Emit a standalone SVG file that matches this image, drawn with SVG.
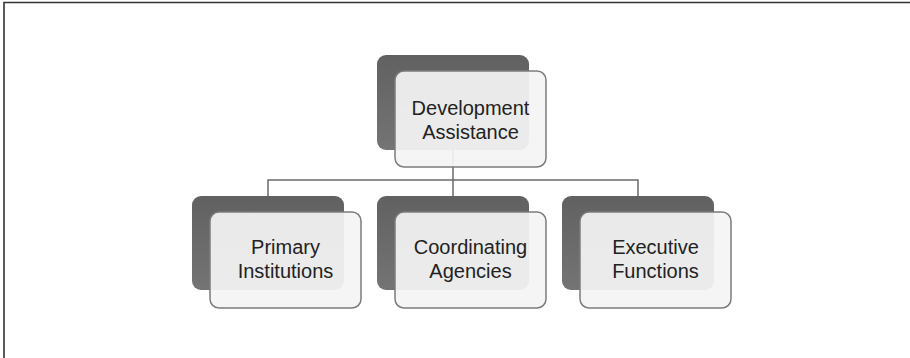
<svg xmlns="http://www.w3.org/2000/svg" width="910" height="358" viewBox="0 0 910 358">
  <style>
    .back { fill: url(#backFill); }
    .front { fill: #f4f4f4; fill-opacity: 0.93; stroke: #7c7c7c; stroke-width: 1.5; }
    .label { font-family: "Liberation Sans", "Open Sans", sans-serif; font-size: 20px; fill: #222; text-anchor: middle; }
    .wire { fill: none; stroke: #6a6a6a; stroke-width: 1.5; }
    .frame { fill: none; stroke: #333; stroke-width: 1.6; }
  </style>
  <defs>
    <linearGradient id="backFill" x1="0" y1="0" x2="0" y2="1">
      <stop offset="0" stop-color="#616161"/>
      <stop offset="1" stop-color="#747474"/>
    </linearGradient>
  </defs>
  <rect width="910" height="358" fill="#fff"/>
  <path class="frame" d="M4,358 V2.5 H910"/>

  <g id="connectors">
    <path class="wire" d="M453,150 V180"/>
    <path class="wire" d="M268,196 V180 H638 V196"/>
    <path class="wire" d="M453,180 V196"/>
  </g>

  <g id="node-development">
    <rect class="back" x="377" y="55" width="152" height="95" rx="9"/>
    <rect class="front" x="395" y="71" width="151" height="96" rx="9"/>
    <text class="label" x="470.5" y="115">Development</text>
    <text class="label" x="470.5" y="139">Assistance</text>
  </g>

  <g id="node-primary">
    <rect class="back" x="192" y="196" width="152" height="94" rx="9"/>
    <rect class="front" x="210" y="212" width="151" height="96" rx="9"/>
    <text class="label" x="285.5" y="254">Primary</text>
    <text class="label" x="285.5" y="278">Institutions</text>
  </g>

  <g id="node-coordinating">
    <rect class="back" x="377" y="196" width="152" height="94" rx="9"/>
    <rect class="front" x="395" y="212" width="151" height="96" rx="9"/>
    <text class="label" x="470.5" y="254">Coordinating</text>
    <text class="label" x="470.5" y="278">Agencies</text>
  </g>

  <g id="node-executive">
    <rect class="back" x="562" y="196" width="152" height="94" rx="9"/>
    <rect class="front" x="580" y="212" width="151" height="96" rx="9"/>
    <text class="label" x="655.5" y="254">Executive</text>
    <text class="label" x="655.5" y="278">Functions</text>
  </g>
</svg>
